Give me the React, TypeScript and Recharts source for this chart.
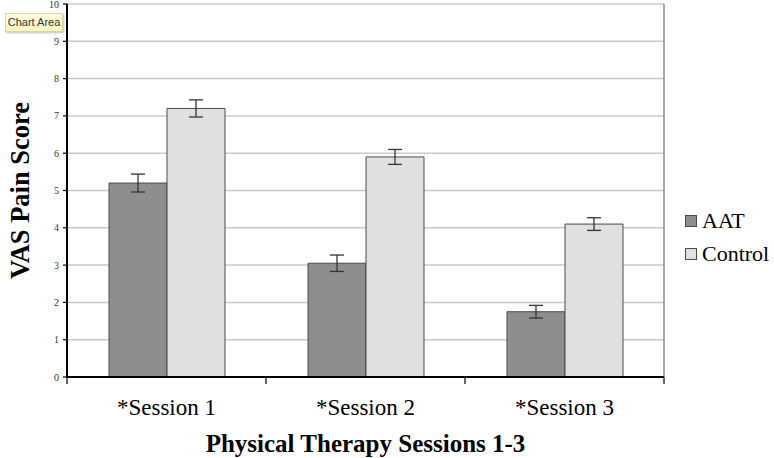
import React from 'react';
import { BarChart, Bar, XAxis, YAxis, CartesianGrid, ErrorBar, Legend } from 'recharts';

const categories = ['*Session 1', '*Session 2', '*Session 3'];
const aatValues = [5.2, 3.05, 1.75];
const controlValues = [7.2, 5.9, 4.1];
const aatErrors = [0.24, 0.22, 0.17];
const controlErrors = [0.23, 0.2, 0.17];
const yTicks = [0, 1, 2, 3, 4, 5, 6, 7, 8, 9, 10];
const seriesNames = ['AAT', 'Control'];

const data = categories.map((c, i) => ({
  name: c,
  aat: aatValues[i],
  control: controlValues[i],
  aatErr: aatErrors[i],
  controlErr: controlErrors[i],
}));

const W = 774;
const H = 458;
const MARGIN = { top: 4, right: 110, left: 0, bottom: 0 };
const YAXIS_W = 67;
const XAXIS_H = 81;
const PLOT_W = W - MARGIN.right - MARGIN.left - YAXIS_W;
const BAND = PLOT_W / categories.length;

const AAT_FILL = '#8e8e8e';
const CONTROL_FILL = '#e0e0e0';
const BAR_STROKE = '#4a4a4a';
const SERIF = 'Liberation Serif, Times New Roman, serif';

const CategoryTick = (props: any) => {
  const { x, y, payload, index } = props;
  const half = BAND / 2;
  const top = y - 8;
  return (
    <g>
      <line x1={x - half} x2={x - half} y1={top} y2={top + 7} stroke="#000" strokeWidth={1.2} />
      {index === categories.length - 1 && (
        <line x1={x + half} x2={x + half} y1={top} y2={top + 7} stroke="#000" strokeWidth={1.2} />
      )}
      <text x={x} y={y + 30} textAnchor="middle" fontFamily={SERIF} fontSize={23} fill="#000">
        {payload.value}
      </text>
    </g>
  );
};

const renderLegend = () => (
  <svg width={90} height={66} style={{ display: 'block' }}>
    {seriesNames.map((n, i) => (
      <g key={n}>
        <rect
          x={1.5}
          y={i * 33 + 10.5}
          width={11}
          height={11}
          fill={i === 0 ? AAT_FILL : CONTROL_FILL}
          stroke={BAR_STROKE}
          strokeWidth={1}
        />
        <text x={18} y={i * 33 + 23} fontFamily={SERIF} fontSize={22} fill="#000">
          {n}
        </text>
      </g>
    ))}
  </svg>
);

export default function App() {
  return (
    <div style={{ position: 'absolute', left: 0, top: 0, width: W, height: H, background: '#fff' }}>
      <BarChart width={W} height={H} data={data} margin={MARGIN} barCategoryGap={42} barGap={0}>
        <CartesianGrid vertical={false} stroke="#c9c9c9" strokeWidth={1.5} />
        <CartesianGrid
          horizontal={false}
          stroke="#8a8a8a"
          strokeWidth={1.5}
          verticalCoordinatesGenerator={({ offset }: any) => [offset.left + offset.width]}
        />
        <XAxis
          dataKey="name"
          height={XAXIS_H}
          axisLine={{ stroke: '#000', strokeWidth: 2 }}
          tickLine={false}
          tickSize={6}
          tickMargin={2}
          tick={<CategoryTick />}
          interval={0}
          label={{
            value: 'Physical Therapy Sessions 1-3',
            position: 'insideBottom',
            offset: 6,
            style: { fontFamily: SERIF, fontSize: 25, fontWeight: 'bold', fill: '#000' },
          }}
        />
        <YAxis
          width={YAXIS_W}
          domain={[0, 10]}
          ticks={yTicks}
          interval={0}
          axisLine={{ stroke: '#000', strokeWidth: 2 }}
          tickLine={{ stroke: '#000', strokeWidth: 1.2 }}
          tickSize={4}
          tickMargin={4}
          tick={{ fontFamily: SERIF, fontSize: 10, fill: '#333' }}
          label={{
            value: 'VAS Pain Score',
            angle: -90,
            position: 'insideLeft',
            offset: 20,
            textAnchor: 'middle',
            style: { fontFamily: SERIF, fontSize: 26.5, fontWeight: 'bold', fill: '#000', textAnchor: 'middle' },
          }}
        />
        <Legend
          layout="vertical"
          align="center"
          verticalAlign="middle"
          content={renderLegend}
          wrapperStyle={{ position: 'absolute', left: 684, top: 205, width: 90 }}
        />
        <Bar dataKey="aat" name="AAT" fill={AAT_FILL} stroke={BAR_STROKE} strokeWidth={1} isAnimationActive={false}>
          <ErrorBar dataKey="aatErr" width={7} stroke="#333" strokeWidth={1.3} />
        </Bar>
        <Bar dataKey="control" name="Control" fill={CONTROL_FILL} stroke={BAR_STROKE} strokeWidth={1} isAnimationActive={false}>
          <ErrorBar dataKey="controlErr" width={7} stroke="#333" strokeWidth={1.3} />
        </Bar>
      </BarChart>
      <div
        style={{
          position: 'absolute',
          left: 5,
          top: 13,
          width: 56,
          height: 17,
          background: 'linear-gradient(#ffffe0, #f6f3c4)',
          border: '1px solid #d8d6a8',
          boxShadow: '1px 1px 2px rgba(0,0,0,0.25)',
          fontFamily: 'Liberation Sans, Arial, sans-serif',
          fontSize: 11,
          lineHeight: '17px',
          textAlign: 'center',
          color: '#333',
        }}
      >
        Chart Area
      </div>
    </div>
  );
}
